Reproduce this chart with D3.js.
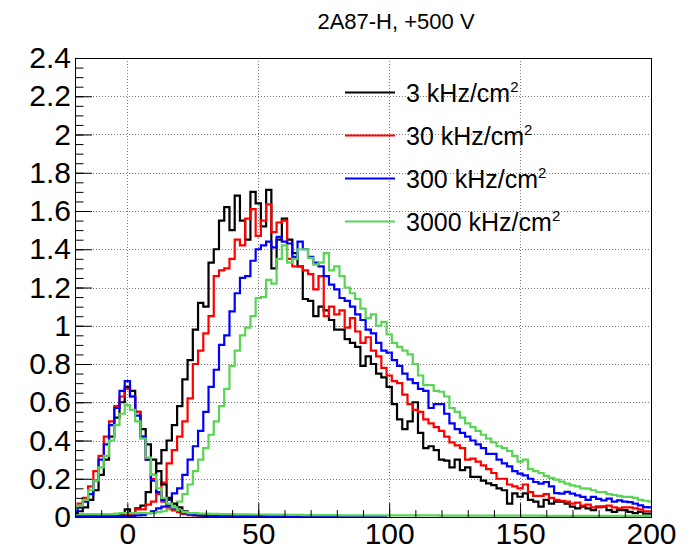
<!DOCTYPE html>
<html lang='en'>
<head>
<meta charset='utf-8'>
<title>2A87-H, +500 V</title>
<script src='https://cdn.jsdelivr.net/npm/d3@7'></script>
<style>
body { margin: 0; background: #fff; }
svg text { font-family: 'Liberation Sans', Arial, sans-serif; fill: #000; }
g.grid line { stroke: #777; stroke-width: 1; stroke-dasharray: 1,2; }
g.hist path { fill: none; stroke-width: 2.2; }
g.axis path.domain { display: none; }
g.axis line { stroke: #000; }
</style>
</head>
<body>
<script>
// histogram bins: centres from -20 to 200, width 2
var firstBin = -20, binWidth = 2;

// signal spectra
var sig3 = [
  0.003,0.003,0.003,0.003,0.003,0.003,0.003,0.003,0.005,0.01,
  0.04,0.02,0.045,0.06,0.13,0.22,0.28,0.35,0.40,0.48,
  0.58,0.72,0.82,0.98,1.12,1.10,1.33,1.40,1.55,1.62,
  1.50,1.68,1.55,1.45,1.70,1.64,1.52,1.71,1.30,1.45,
  1.56,1.45,1.38,1.31,1.14,1.13,1.05,1.10,1.08,1.03,
  0.98,0.98,0.93,0.91,0.89,0.79,0.84,0.80,0.75,0.73,
  0.68,0.59,0.51,0.46,0.50,0.60,0.44,0.36,0.37,0.35,
  0.30,0.295,0.26,0.30,0.245,0.26,0.21,0.21,0.19,0.176,
  0.167,0.15,0.14,0.07,0.124,0.106,0.124,0.09,0.08,0.054,
  0.09,0.07,0.08,0.08,0.07,0.054,0.045,0.054,0.045,0.036,
  0.054,0.054,0.036,0.027,0.036,0.036,0.027,0.02,0.027,0.018,
  0.018];
var sig30 = [
  0.003,0.003,0.003,0.003,0.003,0.003,0.003,0.003,0.004,0.005,
  0.008,0.01,0.04,0.04,0.065,0.08,0.12,0.18,0.28,0.35,
  0.42,0.50,0.62,0.80,0.87,0.96,1.05,1.26,1.29,1.30,
  1.35,1.45,1.42,1.56,1.61,1.47,1.55,1.635,1.49,1.54,
  1.55,1.35,1.31,1.31,1.29,1.27,1.19,1.26,1.05,1.10,
  1.06,1.08,0.99,1.04,0.97,0.91,0.94,0.87,0.84,0.78,
  0.74,0.71,0.70,0.64,0.59,0.56,0.55,0.51,0.49,0.47,
  0.45,0.42,0.39,0.375,0.36,0.30,0.305,0.29,0.27,0.25,
  0.23,0.20,0.20,0.17,0.16,0.15,0.17,0.13,0.11,0.11,
  0.12,0.10,0.09,0.085,0.08,0.07,0.075,0.06,0.065,0.05,
  0.05,0.055,0.06,0.05,0.045,0.05,0.05,0.045,0.04,0.03,
  0.03];
var sig300 = [
  0.003,0.003,0.003,0.003,0.003,0.003,0.003,0.003,0.003,0.003,
  0.005,0.005,0.008,0.01,0.02,0.03,0.045,0.054,0.089,0.124,
  0.15,0.22,0.30,0.37,0.45,0.55,0.68,0.77,0.90,0.95,
  1.075,1.17,1.25,1.26,1.34,1.40,1.42,1.44,1.41,1.465,
  1.44,1.43,1.36,1.44,1.40,1.36,1.33,1.31,1.26,1.215,
  1.19,1.145,1.13,1.10,1.06,1.03,0.98,0.96,0.91,0.87,
  0.86,0.82,0.79,0.75,0.72,0.70,0.67,0.66,0.57,0.59,
  0.59,0.54,0.49,0.46,0.44,0.42,0.40,0.38,0.36,0.33,
  0.33,0.30,0.28,0.265,0.24,0.227,0.218,0.20,0.183,0.174,
  0.183,0.16,0.125,0.122,0.131,0.122,0.113,0.105,0.09,0.105,
  0.095,0.087,0.096,0.08,0.087,0.08,0.078,0.07,0.061,0.052,
  0.05];
var sig3000 = [
  0.015,0.015,0.015,0.015,0.015,0.015,0.015,0.015,0.018,0.02,
  0.02,0.02,0.02,0.02,0.02,0.02,0.025,0.03,0.04,0.06,
  0.08,0.12,0.17,0.24,0.30,0.36,0.43,0.50,0.58,0.67,
  0.79,0.87,0.95,0.99,1.05,1.145,1.15,1.24,1.22,1.35,
  1.42,1.33,1.35,1.40,1.40,1.355,1.32,1.33,1.38,1.29,
  1.31,1.26,1.20,1.17,1.14,1.09,1.04,1.06,1.00,1.02,
  0.955,0.91,0.89,0.87,0.85,0.80,0.74,0.69,0.69,0.66,
  0.655,0.63,0.57,0.55,0.52,0.49,0.47,0.45,0.43,0.41,
  0.39,0.37,0.36,0.345,0.32,0.29,0.30,0.25,0.24,0.23,
  0.215,0.205,0.195,0.185,0.175,0.165,0.16,0.15,0.148,0.14,
  0.13,0.13,0.12,0.115,0.11,0.105,0.105,0.10,0.09,0.085,
  0.08];

// pedestal (noise) spectra
var ped3 = [
  0.02,0.03,0.05,0.09,0.14,0.22,0.30,0.42,0.52,0.60,
  0.68,0.66,0.55,0.46,0.38,0.30,0.24,0.17,0.10,0.07,
  0.05,0.03,0.02,0.015,0.01,0.008,0.006,0.005,0.005,0.004,
  0.004,0.004,0.004,0.004,0.004,0.004,0.004,0.004,0.004,0.004,
  0.004,0.004,0.003,0.003,0.003,0.003,0.003,0.003,0.003,0.003,
  0.003,0.003,0.003,0.003,0.003,0.003,0.003,0.003,0.003,0.003];
var ped30 = [
  0.05,0.07,0.10,0.16,0.24,0.32,0.42,0.50,0.58,0.63,
  0.67,0.63,0.55,0.42,0.30,0.20,0.13,0.08,0.05,0.035,
  0.025,0.015,0.01,0.008,0.006,0.005,0.005,0.004,0.004,0.004,
  0.004,0.004,0.004,0.004,0.004,0.004,0.004,0.004,0.004,0.004,
  0.004,0.004,0.003,0.003,0.003,0.003,0.003,0.003,0.003,0.003,
  0.003,0.003,0.003,0.003,0.003,0.003,0.003,0.003,0.003,0.003];
var ped300 = [
  0.03,0.05,0.08,0.12,0.19,0.30,0.38,0.48,0.57,0.66,
  0.71,0.63,0.53,0.42,0.30,0.19,0.13,0.09,0.06,0.045,
  0.035,0.02,0.015,0.01,0.008,0.006,0.005,0.005,0.004,0.004,
  0.004,0.004,0.004,0.004,0.004,0.004,0.004,0.004,0.004,0.004,
  0.004,0.004,0.004,0.004,0.004,0.004,0.004,0.004,0.004,0.004,
  0.004,0.004,0.004,0.004,0.004,0.004,0.004,0.004,0.004,0.004];
var ped3000 = [
  0.05,0.06,0.09,0.14,0.19,0.26,0.32,0.40,0.48,0.54,
  0.585,0.56,0.50,0.41,0.31,0.22,0.15,0.10,0.07,0.05,
  0.035,0.025,0.02,0.02,0.018,0.018,0.016,0.016,0.015,0.015,
  0.015,0.014,0.014,0.014,0.013,0.013,0.013,0.012,0.012,0.012,
  0.012,0.011,0.011,0.011,0.01,0.01,0.01,0.01,0.01,0.01,
  0.01,0.009,0.009,0.009,0.009,0.009,0.008,0.008,0.008,0.008,
  0.008,0.008,0.008,0.008,0.008,0.008,0.008,0.008,0.008,0.008,
  0.007,0.007,0.007,0.007,0.007,0.007,0.007,0.007,0.007,0.007,
  0.007,0.007,0.007,0.007,0.007,0.007,0.007,0.007,0.007,0.007,
  0.006,0.006,0.006,0.006,0.006,0.006,0.006,0.006,0.006,0.006,
  0.006,0.006,0.006,0.006,0.006,0.006,0.006,0.006,0.006,0.006,
  0.006];

var rates = ['3', '30', '300', '3000'];
var colors = ['#000000', '#ff0000', '#0000ff', '#59d454'];
var signals = [sig3, sig30, sig300, sig3000];
var pedestals = [ped3, ped30, ped300, ped3000];

var xMajor = [0, 50, 100, 150, 200];
var yMajor = [0, 0.2, 0.4, 0.6, 0.8, 1, 1.2, 1.4, 1.6, 1.8, 2, 2.2, 2.4];
var chartTitle = '2A87-H, +500 V';

var width = 688, height = 552;
var frame = {left: 75, right: 651, top: 58, bottom: 517};

var x = d3.scaleLinear().domain([-20, 200]).range([frame.left, frame.right]);
var y = d3.scaleLinear().domain([0, 2.4]).range([frame.bottom, frame.top]);

var svg = d3.select('body').append('svg')
  .attr('width', width)
  .attr('height', height);

svg.append('clipPath').attr('id', 'clip')
  .append('rect')
    .attr('x', frame.left).attr('y', frame.top)
    .attr('width', frame.right - frame.left)
    .attr('height', frame.bottom - frame.top);

// grid
var grid = svg.append('g').attr('class', 'grid');
grid.selectAll('line.gy')
  .data(yMajor.slice(1, -1))
  .enter().append('line')
    .attr('class', 'gy')
    .attr('x1', frame.left).attr('x2', frame.right)
    .attr('y1', function(d) { return Math.round(y(d)) + 0.5; })
    .attr('y2', function(d) { return Math.round(y(d)) + 0.5; });
grid.selectAll('line.gx')
  .data(xMajor.slice(0, -1))
  .enter().append('line')
    .attr('class', 'gx')
    .attr('y1', frame.top).attr('y2', frame.bottom)
    .attr('x1', function(d) { return Math.round(x(d)) + 0.5; })
    .attr('x2', function(d) { return Math.round(x(d)) + 0.5; });

// histograms
function stepPoints(vals) {
  var pts = vals.map(function(v, i) {
    return [firstBin + i * binWidth - binWidth / 2, v];
  });
  var last = vals.length - 1;
  pts.push([firstBin + last * binWidth + binWidth / 2, vals[last]]);
  return pts;
}
var line = d3.line()
  .curve(d3.curveStepAfter)
  .x(function(d) { return x(d[0]); })
  .y(function(d) { return y(d[1]); });

var hist = svg.append('g').attr('class', 'hist').attr('clip-path', 'url(#clip)');
rates.forEach(function(r, i) {
  hist.append('path')
    .attr('d', line(stepPoints(signals[i])))
    .attr('stroke', colors[i]);
});
rates.forEach(function(r, i) {
  hist.append('path')
    .attr('d', line(stepPoints(pedestals[i])))
    .attr('stroke', colors[i]);
});

// axes
var yAxis = svg.append('g').attr('class', 'axis')
  .attr('transform', 'translate(' + frame.left + ',0)');
yAxis.call(d3.axisLeft(y).tickValues(d3.range(0, 2.401, 0.05)).tickSize(-8.5).tickFormat(''));
yAxis.append('g').call(d3.axisLeft(y).tickValues(yMajor).tickSize(-17).tickPadding(4)
  .tickFormat(d3.format('~g')));
yAxis.selectAll('text').style('font-size', '30px');

var xAxis = svg.append('g').attr('class', 'axis')
  .attr('transform', 'translate(0,' + frame.bottom + ')');
xAxis.call(d3.axisBottom(x).tickValues(d3.range(-20, 201, 10)).tickSize(-6.9).tickFormat(''));
xAxis.append('g').call(d3.axisBottom(x).tickValues(xMajor).tickSize(-13.8).tickPadding(6)
  .tickFormat(d3.format('d')));
xAxis.selectAll('text').style('font-size', '30px');

// frame
svg.append('rect')
  .attr('x', frame.left + 0.5).attr('y', frame.top + 0.5)
  .attr('width', frame.right - frame.left)
  .attr('height', frame.bottom - frame.top)
  .attr('fill', 'none').attr('stroke', '#000');

// title
svg.append('text')
  .attr('x', 396).attr('y', 29)
  .attr('text-anchor', 'middle')
  .style('font-size', '22px')
  .text(chartTitle);

// legend
var legend = svg.append('g').attr('class', 'legend');
var rows = legend.selectAll('g')
  .data(rates)
  .enter().append('g')
    .attr('transform', function(d, i) { return 'translate(345,' + (92.5 + i * 43) + ')'; });
rows.append('line')
  .attr('x1', 0).attr('x2', 50)
  .attr('stroke', function(d, i) { return colors[i]; })
  .attr('stroke-width', 2);
var lbl = rows.append('text')
  .attr('x', 61).attr('y', 9)
  .style('font-size', '25px');
lbl.append('tspan').text(function(d) { return d + ' kHz/cm'; });
lbl.append('tspan')
  .attr('dy', -10)
  .style('font-size', '15px')
  .text('2');
</script>
</body>
</html>
